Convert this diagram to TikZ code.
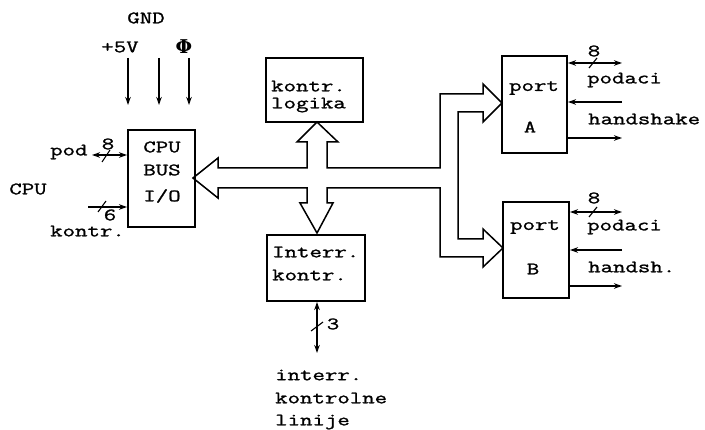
\documentclass[tikz,border=0pt]{standalone}
\usepackage{fontspec}
\newfontfamily\tw{Latin Modern Mono}[FakeStretch=1.38, FakeBold=1.3]
\newfontfamily\phifont{DejaVu Serif}
\usetikzlibrary{arrows.meta}
\tikzset{
  x=1pt, y=-1pt,
  lbl/.style={font=\tw\fontsize{17.5}{17.5}\selectfont, inner sep=0pt},
  lbll/.style={lbl, anchor=west},
  blk/.style={draw, line width=1.9pt, inner sep=0pt},
  sig/.style={line width=1.5pt, -{Stealth[length=8pt,width=5.5pt]}},
  sigb/.style={line width=1.5pt, {Stealth[length=8pt,width=5.5pt]}-{Stealth[length=8pt,width=5.5pt]}},
  tick/.style={line width=1.1pt},
  bus/.style={draw, line width=1.5pt, line join=miter},
}
\begin{document}
\begin{tikzpicture}
\useasboundingbox (0,0) rectangle (705,430);

% functional blocks
\node[blk, minimum width=67pt, minimum height=97pt] (cpu) at (161.5,178.5) {};
\node[blk, minimum width=97pt, minimum height=64pt] (logic) at (314.5,90) {};
\node[blk, minimum width=98pt, minimum height=66pt] (intr) at (316,268) {};
\node[blk, minimum width=65pt, minimum height=97pt] (porta) at (534.5,104.5) {};
\node[blk, minimum width=66pt, minimum height=96pt] (portb) at (536,250) {};

% block texts
\node[lbl] (cpu1) at (162,147) {CPU};
\node[lbl] (cpu2) at (162,170) {BUS};
\node[lbl] (cpu3) at (162,196) {I/O};
\node[lbll] (lg1) at (271,86) {kontr.};
\node[lbll] (lg2) at (271,105) {logika};
\node[lbll] (in1) at (272,252) {Interr.};
\node[lbll] (in2) at (272,275) {kontr.};
\node[lbl] (pa1) at (534,88) {port};
\node[lbl] (pa2) at (530,127) {A};
\node[lbl] (pb1) at (535,227) {port};
\node[lbl] (pb2) at (533,269) {B};

% supply inputs
\node[lbl] (gnd) at (146,18) {GND};
\node[lbl] (vcc) at (120,47) {+5V};
\node[inner sep=0pt, font=\phifont\bfseries\fontsize{19}{19}\selectfont] (phi) at (184,47) {Φ};
\foreach \px/\nm in {128/s1, 159/s2, 189/s3} {
  \coordinate (\nm a) at (\px,58);
  \coordinate (\nm b) at (\px,105);
  \draw[sig] (\nm a) -- (\nm b);
}

% CPU side signals
\node[lbl] (cpulbl) at (28,189) {CPU};
\node[lbll] (pod) at (50,152) {pod};
\node[lbll] (kon) at (50,231) {kontr.};
\coordinate (poda) at (92,155);
\coordinate (kona) at (88,207);
\draw[sigb] (poda) -- (poda -| cpu.west);
\draw[sig] (kona) -- (kona -| cpu.west);
\draw[tick] (102,162) -- (110,150);
\draw[tick] (98,212) -- (106,201);
\node[lbl] (n8a) at (108,144) {8};
\node[lbl] (n6) at (110,215) {6};

% internal bus
\draw[bus] (193,178) -- (218,158) -- (218,168) -- (307,168) -- (307,142)
  -- (297,142) -- (317,122) -- (338,142) -- (327,142) -- (327,168)
  -- (440,168) -- (440,94) -- (483,94) -- (483,84) -- (502,103)
  -- (483,122) -- (483,112) -- (458,112) -- (458,239) -- (483,239)
  -- (483,229) -- (503,248) -- (483,267) -- (483,257) -- (440,257)
  -- (440,188) -- (327,188) -- (327,203) -- (333,203) -- (317,233)
  -- (300,203) -- (307,203) -- (307,188) -- (218,188) -- (218,198) -- cycle;

% interrupt lines
\coordinate (irq) at (317,353);
\draw[sigb] (irq |- intr.south) -- (irq);
\draw[tick] (311,331) -- (323,322);
\node[lbl] (n3) at (333,324) {3};
\node[lbll] (il1) at (275,375) {interr.};
\node[lbll] (il2) at (275,398) {kontrolne};
\node[lbll] (il3) at (275,422) {linije};

% port A lines
\coordinate (ad) at (622,63);
\coordinate (ah) at (622,102);
\coordinate (ao) at (622,138);
\draw[sigb] (ad -| porta.east) -- (ad);
\draw[sig] (ah) -- (ah -| porta.east);
\draw[sig] (ao -| porta.east) -- (ao);
\draw[tick] (589,68) -- (597,58);
\node[lbl] (n8b) at (594,51) {8};
\node[lbll] (pda) at (587,80) {podaci};
\node[lbll] (hsa) at (588,119) {handshake};

% port B lines
\coordinate (bd) at (622,212);
\coordinate (bh) at (622,250);
\coordinate (bo) at (622,286);
\draw[sigb] (bd -| portb.east) -- (bd);
\draw[sig] (bh) -- (bh -| portb.east);
\draw[sig] (bo -| portb.east) -- (bo);
\draw[tick] (589,217) -- (597,207);
\node[lbl] (n8c) at (594,198) {8};
\node[lbll] (pdb) at (587,227) {podaci};
\node[lbll] (hsb) at (588,267) {handsh.};
\end{tikzpicture}
\end{document}
